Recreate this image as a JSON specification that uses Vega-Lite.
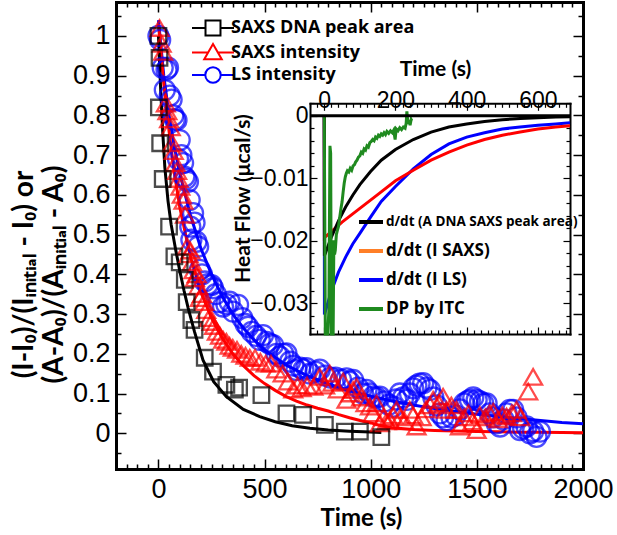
{
  "$schema": "https://vega.github.io/schema/vega-lite/v6.json",
  "width": 467,
  "height": 467,
  "autosize": {"type": "none"},
  "padding": {"left": 116, "top": 2, "right": 34, "bottom": 66},
  "background": "white",
  "config": {
    "view": {"stroke": null},
    "axis": {"grid": false, "domainColor": "black", "tickColor": "black", "labelColor": "black", "titleColor": "black", "labelOverlap": false, "labelFlush": false, "domainCap": "square"}
  },
  "datasets": {
    "mainpts": [
      {"t":0,"v":1.0,"s":"LS intensity"},{"t":8,"v":0.99,"s":"LS intensity"},{"t":20,"v":0.92,"s":"LS intensity"},{"t":30,"v":0.864,"s":"LS intensity"},{"t":38,"v":0.915,"s":"LS intensity"},{"t":45,"v":0.92,"s":"LS intensity"},{"t":53,"v":0.85,"s":"LS intensity"},{"t":62,"v":0.84,"s":"LS intensity"},{"t":70,"v":0.8,"s":"LS intensity"},{"t":77,"v":0.79,"s":"LS intensity"},{"t":85,"v":0.788,"s":"LS intensity"},{"t":92,"v":0.69,"s":"LS intensity"},{"t":100,"v":0.738,"s":"LS intensity"},{"t":108,"v":0.7,"s":"LS intensity"},{"t":116,"v":0.68,"s":"LS intensity"},{"t":122,"v":0.646,"s":"LS intensity"},{"t":130,"v":0.64,"s":"LS intensity"},{"t":139,"v":0.633,"s":"LS intensity"},{"t":147,"v":0.587,"s":"LS intensity"},{"t":150,"v":0.52,"s":"LS intensity"},{"t":155,"v":0.487,"s":"LS intensity"},{"t":163,"v":0.554,"s":"LS intensity"},{"t":170,"v":0.53,"s":"LS intensity"},{"t":179,"v":0.482,"s":"LS intensity"},{"t":187,"v":0.47,"s":"LS intensity"},{"t":195,"v":0.411,"s":"LS intensity"},{"t":205,"v":0.4,"s":"LS intensity"},{"t":218,"v":0.382,"s":"LS intensity"},{"t":232,"v":0.375,"s":"LS intensity"},{"t":250,"v":0.373,"s":"LS intensity"},{"t":257,"v":0.365,"s":"LS intensity"},{"t":270,"v":0.35,"s":"LS intensity"},{"t":285,"v":0.33,"s":"LS intensity"},{"t":304,"v":0.319,"s":"LS intensity"},{"t":320,"v":0.325,"s":"LS intensity"},{"t":335,"v":0.331,"s":"LS intensity"},{"t":352,"v":0.306,"s":"LS intensity"},{"t":375,"v":0.323,"s":"LS intensity"},{"t":395,"v":0.29,"s":"LS intensity"},{"t":410,"v":0.275,"s":"LS intensity"},{"t":422,"v":0.268,"s":"LS intensity"},{"t":440,"v":0.255,"s":"LS intensity"},{"t":460,"v":0.245,"s":"LS intensity"},{"t":477,"v":0.235,"s":"LS intensity"},{"t":493,"v":0.247,"s":"LS intensity"},{"t":510,"v":0.23,"s":"LS intensity"},{"t":525,"v":0.225,"s":"LS intensity"},{"t":540,"v":0.222,"s":"LS intensity"},{"t":556,"v":0.2,"s":"LS intensity"},{"t":572,"v":0.193,"s":"LS intensity"},{"t":588,"v":0.2,"s":"LS intensity"},{"t":603,"v":0.201,"s":"LS intensity"},{"t":620,"v":0.18,"s":"LS intensity"},{"t":635,"v":0.17,"s":"LS intensity"},{"t":650,"v":0.159,"s":"LS intensity"},{"t":668,"v":0.165,"s":"LS intensity"},{"t":683,"v":0.16,"s":"LS intensity"},{"t":697,"v":0.164,"s":"LS intensity"},{"t":715,"v":0.15,"s":"LS intensity"},{"t":740,"v":0.155,"s":"LS intensity"},{"t":760,"v":0.16,"s":"LS intensity"},{"t":785,"v":0.145,"s":"LS intensity"},{"t":810,"v":0.14,"s":"LS intensity"},{"t":835,"v":0.14,"s":"LS intensity"},{"t":860,"v":0.135,"s":"LS intensity"},{"t":886,"v":0.138,"s":"LS intensity"},{"t":900,"v":0.13,"s":"LS intensity"},{"t":917,"v":0.134,"s":"LS intensity"},{"t":940,"v":0.115,"s":"LS intensity"},{"t":964,"v":0.1,"s":"LS intensity"},{"t":980,"v":0.109,"s":"LS intensity"},{"t":995,"v":0.1,"s":"LS intensity"},{"t":1011,"v":0.092,"s":"LS intensity"},{"t":1027,"v":0.09,"s":"LS intensity"},{"t":1043,"v":0.092,"s":"LS intensity"},{"t":1065,"v":0.08,"s":"LS intensity"},{"t":1085,"v":0.072,"s":"LS intensity"},{"t":1106,"v":0.067,"s":"LS intensity"},{"t":1120,"v":0.085,"s":"LS intensity"},{"t":1137,"v":0.1,"s":"LS intensity"},{"t":1153,"v":0.09,"s":"LS intensity"},{"t":1169,"v":0.084,"s":"LS intensity"},{"t":1185,"v":0.1,"s":"LS intensity"},{"t":1200,"v":0.113,"s":"LS intensity"},{"t":1215,"v":0.12,"s":"LS intensity"},{"t":1230,"v":0.125,"s":"LS intensity"},{"t":1247,"v":0.126,"s":"LS intensity"},{"t":1263,"v":0.115,"s":"LS intensity"},{"t":1279,"v":0.109,"s":"LS intensity"},{"t":1295,"v":0.09,"s":"LS intensity"},{"t":1310,"v":0.07,"s":"LS intensity"},{"t":1326,"v":0.05,"s":"LS intensity"},{"t":1341,"v":0.04,"s":"LS intensity"},{"t":1357,"v":0.033,"s":"LS intensity"},{"t":1380,"v":0.04,"s":"LS intensity"},{"t":1400,"v":0.045,"s":"LS intensity"},{"t":1420,"v":0.06,"s":"LS intensity"},{"t":1440,"v":0.075,"s":"LS intensity"},{"t":1455,"v":0.08,"s":"LS intensity"},{"t":1467,"v":0.084,"s":"LS intensity"},{"t":1483,"v":0.09,"s":"LS intensity"},{"t":1499,"v":0.084,"s":"LS intensity"},{"t":1515,"v":0.08,"s":"LS intensity"},{"t":1530,"v":0.075,"s":"LS intensity"},{"t":1546,"v":0.075,"s":"LS intensity"},{"t":1561,"v":0.05,"s":"LS intensity"},{"t":1577,"v":0.04,"s":"LS intensity"},{"t":1593,"v":0.025,"s":"LS intensity"},{"t":1609,"v":0.017,"s":"LS intensity"},{"t":1625,"v":0.035,"s":"LS intensity"},{"t":1640,"v":0.05,"s":"LS intensity"},{"t":1656,"v":0.059,"s":"LS intensity"},{"t":1671,"v":0.059,"s":"LS intensity"},{"t":1687,"v":0.04,"s":"LS intensity"},{"t":1703,"v":0.008,"s":"LS intensity"},{"t":1718,"v":0.012,"s":"LS intensity"},{"t":1734,"v":0.017,"s":"LS intensity"},{"t":1750,"v":0.0,"s":"LS intensity"},{"t":1765,"v":0.005,"s":"LS intensity"},{"t":1781,"v":-0.009,"s":"LS intensity"},{"t":1797,"v":0.004,"s":"LS intensity"},
      {"t":5,"v":1.02,"s":"SAXS intensity"},{"t":15,"v":0.98,"s":"SAXS intensity"},{"t":22,"v":0.96,"s":"SAXS intensity"},{"t":35,"v":0.83,"s":"SAXS intensity"},{"t":42,"v":0.81,"s":"SAXS intensity"},{"t":50,"v":0.79,"s":"SAXS intensity"},{"t":58,"v":0.77,"s":"SAXS intensity"},{"t":65,"v":0.73,"s":"SAXS intensity"},{"t":72,"v":0.71,"s":"SAXS intensity"},{"t":80,"v":0.68,"s":"SAXS intensity"},{"t":88,"v":0.66,"s":"SAXS intensity"},{"t":95,"v":0.64,"s":"SAXS intensity"},{"t":103,"v":0.62,"s":"SAXS intensity"},{"t":110,"v":0.6,"s":"SAXS intensity"},{"t":118,"v":0.585,"s":"SAXS intensity"},{"t":125,"v":0.55,"s":"SAXS intensity"},{"t":135,"v":0.47,"s":"SAXS intensity"},{"t":142,"v":0.45,"s":"SAXS intensity"},{"t":150,"v":0.46,"s":"SAXS intensity"},{"t":158,"v":0.43,"s":"SAXS intensity"},{"t":165,"v":0.41,"s":"SAXS intensity"},{"t":172,"v":0.39,"s":"SAXS intensity"},{"t":180,"v":0.4,"s":"SAXS intensity"},{"t":188,"v":0.37,"s":"SAXS intensity"},{"t":195,"v":0.34,"s":"SAXS intensity"},{"t":205,"v":0.35,"s":"SAXS intensity"},{"t":215,"v":0.33,"s":"SAXS intensity"},{"t":225,"v":0.31,"s":"SAXS intensity"},{"t":238,"v":0.29,"s":"SAXS intensity"},{"t":250,"v":0.28,"s":"SAXS intensity"},{"t":262,"v":0.27,"s":"SAXS intensity"},{"t":275,"v":0.255,"s":"SAXS intensity"},{"t":290,"v":0.245,"s":"SAXS intensity"},{"t":305,"v":0.235,"s":"SAXS intensity"},{"t":320,"v":0.23,"s":"SAXS intensity"},{"t":335,"v":0.22,"s":"SAXS intensity"},{"t":350,"v":0.215,"s":"SAXS intensity"},{"t":370,"v":0.21,"s":"SAXS intensity"},{"t":390,"v":0.2,"s":"SAXS intensity"},{"t":410,"v":0.195,"s":"SAXS intensity"},{"t":430,"v":0.19,"s":"SAXS intensity"},{"t":455,"v":0.19,"s":"SAXS intensity"},{"t":480,"v":0.18,"s":"SAXS intensity"},{"t":505,"v":0.175,"s":"SAXS intensity"},{"t":530,"v":0.175,"s":"SAXS intensity"},{"t":555,"v":0.16,"s":"SAXS intensity"},{"t":585,"v":0.15,"s":"SAXS intensity"},{"t":610,"v":0.13,"s":"SAXS intensity"},{"t":635,"v":0.11,"s":"SAXS intensity"},{"t":655,"v":0.12,"s":"SAXS intensity"},{"t":675,"v":0.113,"s":"SAXS intensity"},{"t":700,"v":0.12,"s":"SAXS intensity"},{"t":730,"v":0.117,"s":"SAXS intensity"},{"t":760,"v":0.142,"s":"SAXS intensity"},{"t":785,"v":0.12,"s":"SAXS intensity"},{"t":807,"v":0.15,"s":"SAXS intensity"},{"t":820,"v":0.127,"s":"SAXS intensity"},{"t":845,"v":0.11,"s":"SAXS intensity"},{"t":870,"v":0.13,"s":"SAXS intensity"},{"t":886,"v":0.084,"s":"SAXS intensity"},{"t":905,"v":0.1,"s":"SAXS intensity"},{"t":917,"v":0.109,"s":"SAXS intensity"},{"t":933,"v":0.117,"s":"SAXS intensity"},{"t":955,"v":0.09,"s":"SAXS intensity"},{"t":975,"v":0.075,"s":"SAXS intensity"},{"t":996,"v":0.067,"s":"SAXS intensity"},{"t":1010,"v":0.05,"s":"SAXS intensity"},{"t":1027,"v":0.075,"s":"SAXS intensity"},{"t":1043,"v":0.025,"s":"SAXS intensity"},{"t":1060,"v":0.04,"s":"SAXS intensity"},{"t":1075,"v":0.03,"s":"SAXS intensity"},{"t":1090,"v":0.033,"s":"SAXS intensity"},{"t":1105,"v":0.045,"s":"SAXS intensity"},{"t":1122,"v":0.059,"s":"SAXS intensity"},{"t":1140,"v":0.04,"s":"SAXS intensity"},{"t":1160,"v":0.03,"s":"SAXS intensity"},{"t":1184,"v":0.059,"s":"SAXS intensity"},{"t":1200,"v":0.045,"s":"SAXS intensity"},{"t":1216,"v":0.017,"s":"SAXS intensity"},{"t":1240,"v":0.04,"s":"SAXS intensity"},{"t":1260,"v":0.06,"s":"SAXS intensity"},{"t":1280,"v":0.07,"s":"SAXS intensity"},{"t":1294,"v":0.084,"s":"SAXS intensity"},{"t":1320,"v":0.075,"s":"SAXS intensity"},{"t":1341,"v":0.092,"s":"SAXS intensity"},{"t":1357,"v":0.059,"s":"SAXS intensity"},{"t":1380,"v":0.07,"s":"SAXS intensity"},{"t":1404,"v":0.059,"s":"SAXS intensity"},{"t":1420,"v":0.017,"s":"SAXS intensity"},{"t":1440,"v":0.04,"s":"SAXS intensity"},{"t":1460,"v":0.05,"s":"SAXS intensity"},{"t":1480,"v":0.03,"s":"SAXS intensity"},{"t":1499,"v":0.008,"s":"SAXS intensity"},{"t":1514,"v":0.046,"s":"SAXS intensity"},{"t":1540,"v":0.04,"s":"SAXS intensity"},{"t":1560,"v":0.05,"s":"SAXS intensity"},{"t":1577,"v":0.054,"s":"SAXS intensity"},{"t":1600,"v":0.035,"s":"SAXS intensity"},{"t":1620,"v":0.045,"s":"SAXS intensity"},{"t":1640,"v":0.042,"s":"SAXS intensity"},{"t":1665,"v":0.05,"s":"SAXS intensity"},{"t":1687,"v":0.059,"s":"SAXS intensity"},{"t":1705,"v":0.04,"s":"SAXS intensity"},{"t":1742,"v":0.105,"s":"SAXS intensity"},{"t":1765,"v":0.142,"s":"SAXS intensity"},
      {"t":0,"v":1.0,"s":"SAXS DNA peak area"},{"t":5,"v":0.945,"s":"SAXS DNA peak area"},{"t":2,"v":0.82,"s":"SAXS DNA peak area"},{"t":8,"v":0.73,"s":"SAXS DNA peak area"},{"t":20,"v":0.64,"s":"SAXS DNA peak area"},{"t":50,"v":0.52,"s":"SAXS DNA peak area"},{"t":75,"v":0.445,"s":"SAXS DNA peak area"},{"t":100,"v":0.43,"s":"SAXS DNA peak area"},{"t":124,"v":0.386,"s":"SAXS DNA peak area"},{"t":133,"v":0.33,"s":"SAXS DNA peak area"},{"t":155,"v":0.285,"s":"SAXS DNA peak area"},{"t":170,"v":0.26,"s":"SAXS DNA peak area"},{"t":218,"v":0.19,"s":"SAXS DNA peak area"},{"t":257,"v":0.155,"s":"SAXS DNA peak area"},{"t":320,"v":0.122,"s":"SAXS DNA peak area"},{"t":360,"v":0.11,"s":"SAXS DNA peak area"},{"t":380,"v":0.115,"s":"SAXS DNA peak area"},{"t":485,"v":0.096,"s":"SAXS DNA peak area"},{"t":603,"v":0.05,"s":"SAXS DNA peak area"},{"t":681,"v":0.046,"s":"SAXS DNA peak area"},{"t":784,"v":0.021,"s":"SAXS DNA peak area"},{"t":878,"v":0.004,"s":"SAXS DNA peak area"},{"t":949,"v":0.004,"s":"SAXS DNA peak area"},{"t":1050,"v":-0.01,"s":"SAXS DNA peak area"}
    ],
    "mainfit": [
      {"t":0,"v":1.04,"s":"LS intensity"},{"t":25,"v":0.9,"s":"LS intensity"},{"t":50,"v":0.8,"s":"LS intensity"},{"t":75,"v":0.72,"s":"LS intensity"},{"t":100,"v":0.655,"s":"LS intensity"},{"t":150,"v":0.55,"s":"LS intensity"},{"t":200,"v":0.465,"s":"LS intensity"},{"t":250,"v":0.4,"s":"LS intensity"},{"t":300,"v":0.345,"s":"LS intensity"},{"t":350,"v":0.3,"s":"LS intensity"},{"t":400,"v":0.265,"s":"LS intensity"},{"t":450,"v":0.235,"s":"LS intensity"},{"t":500,"v":0.21,"s":"LS intensity"},{"t":600,"v":0.172,"s":"LS intensity"},{"t":700,"v":0.145,"s":"LS intensity"},{"t":800,"v":0.124,"s":"LS intensity"},{"t":900,"v":0.107,"s":"LS intensity"},{"t":1000,"v":0.093,"s":"LS intensity"},{"t":1100,"v":0.081,"s":"LS intensity"},{"t":1200,"v":0.071,"s":"LS intensity"},{"t":1300,"v":0.062,"s":"LS intensity"},{"t":1400,"v":0.055,"s":"LS intensity"},{"t":1500,"v":0.048,"s":"LS intensity"},{"t":1600,"v":0.042,"s":"LS intensity"},{"t":1700,"v":0.037,"s":"LS intensity"},{"t":1800,"v":0.032,"s":"LS intensity"},{"t":1900,"v":0.027,"s":"LS intensity"},{"t":2000,"v":0.024,"s":"LS intensity"},
      {"t":0,"v":1.03,"s":"SAXS intensity"},{"t":25,"v":0.88,"s":"SAXS intensity"},{"t":50,"v":0.76,"s":"SAXS intensity"},{"t":75,"v":0.655,"s":"SAXS intensity"},{"t":100,"v":0.57,"s":"SAXS intensity"},{"t":150,"v":0.445,"s":"SAXS intensity"},{"t":200,"v":0.355,"s":"SAXS intensity"},{"t":250,"v":0.29,"s":"SAXS intensity"},{"t":300,"v":0.24,"s":"SAXS intensity"},{"t":350,"v":0.2,"s":"SAXS intensity"},{"t":400,"v":0.17,"s":"SAXS intensity"},{"t":450,"v":0.145,"s":"SAXS intensity"},{"t":500,"v":0.125,"s":"SAXS intensity"},{"t":550,"v":0.108,"s":"SAXS intensity"},{"t":600,"v":0.093,"s":"SAXS intensity"},{"t":650,"v":0.081,"s":"SAXS intensity"},{"t":700,"v":0.071,"s":"SAXS intensity"},{"t":750,"v":0.063,"s":"SAXS intensity"},{"t":800,"v":0.056,"s":"SAXS intensity"},{"t":850,"v":0.047,"s":"SAXS intensity"},{"t":900,"v":0.039,"s":"SAXS intensity"},{"t":950,"v":0.032,"s":"SAXS intensity"},{"t":1000,"v":0.026,"s":"SAXS intensity"},{"t":1050,"v":0.019,"s":"SAXS intensity"},{"t":1100,"v":0.014,"s":"SAXS intensity"},{"t":1200,"v":0.0095,"s":"SAXS intensity"},{"t":1300,"v":0.0072,"s":"SAXS intensity"},{"t":1400,"v":0.0056,"s":"SAXS intensity"},{"t":1500,"v":0.0044,"s":"SAXS intensity"},{"t":1600,"v":0.0035,"s":"SAXS intensity"},{"t":1700,"v":0.0027,"s":"SAXS intensity"},{"t":1800,"v":0.0022,"s":"SAXS intensity"},{"t":1900,"v":0.0018,"s":"SAXS intensity"},{"t":2000,"v":0.0015,"s":"SAXS intensity"},
      {"t":0,"v":1.0,"s":"SAXS DNA peak area"},{"t":10,"v":0.87,"s":"SAXS DNA peak area"},{"t":20,"v":0.76,"s":"SAXS DNA peak area"},{"t":30,"v":0.67,"s":"SAXS DNA peak area"},{"t":45,"v":0.585,"s":"SAXS DNA peak area"},{"t":60,"v":0.525,"s":"SAXS DNA peak area"},{"t":80,"v":0.465,"s":"SAXS DNA peak area"},{"t":100,"v":0.41,"s":"SAXS DNA peak area"},{"t":120,"v":0.36,"s":"SAXS DNA peak area"},{"t":140,"v":0.315,"s":"SAXS DNA peak area"},{"t":170,"v":0.255,"s":"SAXS DNA peak area"},{"t":210,"v":0.184,"s":"SAXS DNA peak area"},{"t":260,"v":0.13,"s":"SAXS DNA peak area"},{"t":320,"v":0.092,"s":"SAXS DNA peak area"},{"t":400,"v":0.06,"s":"SAXS DNA peak area"},{"t":477,"v":0.042,"s":"SAXS DNA peak area"},{"t":550,"v":0.029,"s":"SAXS DNA peak area"},{"t":630,"v":0.019,"s":"SAXS DNA peak area"},{"t":713,"v":0.0126,"s":"SAXS DNA peak area"},{"t":800,"v":0.008,"s":"SAXS DNA peak area"},{"t":900,"v":0.005,"s":"SAXS DNA peak area"},{"t":1000,"v":0.003,"s":"SAXS DNA peak area"},{"t":1050,"v":0.002,"s":"SAXS DNA peak area"}
    ],
    "inset": [
      {"t":0,"v":0,"s":"LS"},{"t":0.5,"v":-0.0318,"s":"LS"},{"t":20,"v":-0.028,"s":"LS"},{"t":40,"v":-0.025,"s":"LS"},{"t":60,"v":-0.0226,"s":"LS"},{"t":80,"v":-0.0205,"s":"LS"},{"t":100,"v":-0.0188,"s":"LS"},{"t":130,"v":-0.0162,"s":"LS"},{"t":160,"v":-0.0137,"s":"LS"},{"t":200,"v":-0.0113,"s":"LS"},{"t":250,"v":-0.0085,"s":"LS"},{"t":300,"v":-0.0062,"s":"LS"},{"t":350,"v":-0.0045,"s":"LS"},{"t":400,"v":-0.0034,"s":"LS"},{"t":450,"v":-0.0027,"s":"LS"},{"t":500,"v":-0.0021,"s":"LS"},{"t":550,"v":-0.0018,"s":"LS"},{"t":600,"v":-0.0015,"s":"LS"},{"t":650,"v":-0.0013,"s":"LS"},{"t":690,"v":-0.0011,"s":"LS"},
      {"t":0,"v":0,"s":"SAXS"},{"t":0.5,"v":-0.0195,"s":"SAXS"},{"t":50,"v":-0.017,"s":"SAXS"},{"t":100,"v":-0.0148,"s":"SAXS"},{"t":150,"v":-0.0126,"s":"SAXS"},{"t":200,"v":-0.0104,"s":"SAXS"},{"t":250,"v":-0.0087,"s":"SAXS"},{"t":300,"v":-0.0071,"s":"SAXS"},{"t":350,"v":-0.0058,"s":"SAXS"},{"t":400,"v":-0.0047,"s":"SAXS"},{"t":450,"v":-0.0038,"s":"SAXS"},{"t":500,"v":-0.0031,"s":"SAXS"},{"t":550,"v":-0.0026,"s":"SAXS"},{"t":600,"v":-0.0021,"s":"SAXS"},{"t":650,"v":-0.0018,"s":"SAXS"},{"t":690,"v":-0.0016,"s":"SAXS"},
      {"t":0,"v":0,"s":"A"},{"t":0.5,"v":-0.0224,"s":"A"},{"t":20,"v":-0.0194,"s":"A"},{"t":40,"v":-0.0168,"s":"A"},{"t":60,"v":-0.0146,"s":"A"},{"t":80,"v":-0.0127,"s":"A"},{"t":100,"v":-0.011,"s":"A"},{"t":130,"v":-0.0089,"s":"A"},{"t":160,"v":-0.0071,"s":"A"},{"t":200,"v":-0.0054,"s":"A"},{"t":250,"v":-0.0038,"s":"A"},{"t":300,"v":-0.0026,"s":"A"},{"t":350,"v":-0.0018,"s":"A"},{"t":400,"v":-0.0013,"s":"A"},{"t":450,"v":-0.0009,"s":"A"},{"t":500,"v":-0.00063,"s":"A"},{"t":550,"v":-0.00044,"s":"A"},{"t":600,"v":-0.0003,"s":"A"},{"t":650,"v":-0.0002,"s":"A"},{"t":690,"v":-0.00016,"s":"A"},
      {"t":0,"v":0,"s":"ITC"},{"t":1.5,"v":-0.016,"s":"ITC"},{"t":3,"v":-0.0349,"s":"ITC"},{"t":10,"v":-0.0349,"s":"ITC"},{"t":13,"v":-0.031,"s":"ITC"},{"t":16,"v":-0.0048,"s":"ITC"},{"t":18,"v":-0.006,"s":"ITC"},{"t":20,"v":-0.0349,"s":"ITC"},{"t":25,"v":-0.0349,"s":"ITC"},{"t":27,"v":-0.0199,"s":"ITC"},{"t":29,"v":-0.0222,"s":"ITC"},{"t":31,"v":-0.0215,"s":"ITC"},{"t":34,"v":-0.019,"s":"ITC"},{"t":37,"v":-0.0183,"s":"ITC"},{"t":40,"v":-0.0177,"s":"ITC"},{"t":44,"v":-0.016,"s":"ITC"},{"t":47,"v":-0.0148,"s":"ITC"},{"t":50,"v":-0.0138,"s":"ITC"},{"t":53,"v":-0.0122,"s":"ITC"},{"t":56,"v":-0.0108,"s":"ITC"},{"t":59,"v":-0.0098,"s":"ITC"},{"t":62,"v":-0.0092,"s":"ITC"},{"t":65,"v":-0.0088,"s":"ITC"},{"t":69,"v":-0.009,"s":"ITC"},{"t":73,"v":-0.0084,"s":"ITC"},{"t":77,"v":-0.0087,"s":"ITC"},{"t":81,"v":-0.008,"s":"ITC"},{"t":85,"v":-0.0078,"s":"ITC"},{"t":88,"v":-0.0074,"s":"ITC"},{"t":92,"v":-0.0071,"s":"ITC"},{"t":96,"v":-0.0066,"s":"ITC"},{"t":100,"v":-0.0064,"s":"ITC"},{"t":104,"v":-0.0058,"s":"ITC"},{"t":108,"v":-0.006,"s":"ITC"},{"t":112,"v":-0.0053,"s":"ITC"},{"t":116,"v":-0.0055,"s":"ITC"},{"t":120,"v":-0.0048,"s":"ITC"},{"t":124,"v":-0.005,"s":"ITC"},{"t":128,"v":-0.0043,"s":"ITC"},{"t":132,"v":-0.0041,"s":"ITC"},{"t":136,"v":-0.0038,"s":"ITC"},{"t":140,"v":-0.004,"s":"ITC"},{"t":144,"v":-0.0034,"s":"ITC"},{"t":148,"v":-0.0036,"s":"ITC"},{"t":152,"v":-0.0031,"s":"ITC"},{"t":156,"v":-0.0033,"s":"ITC"},{"t":160,"v":-0.0029,"s":"ITC"},{"t":164,"v":-0.0031,"s":"ITC"},{"t":168,"v":-0.0027,"s":"ITC"},{"t":172,"v":-0.003,"s":"ITC"},{"t":176,"v":-0.0025,"s":"ITC"},{"t":181,"v":-0.0028,"s":"ITC"},{"t":186,"v":-0.0024,"s":"ITC"},{"t":191,"v":-0.0027,"s":"ITC"},{"t":195,"v":-0.0023,"s":"ITC"},{"t":199,"v":-0.0038,"s":"ITC"},{"t":202,"v":-0.0021,"s":"ITC"},{"t":207,"v":-0.0024,"s":"ITC"},{"t":212,"v":-0.0019,"s":"ITC"},{"t":217,"v":-0.0022,"s":"ITC"},{"t":222,"v":-0.0018,"s":"ITC"},{"t":227,"v":-0.002,"s":"ITC"},{"t":230,"v":-0.0012,"s":"ITC"},{"t":232,"v":0.0007,"s":"ITC"},{"t":235,"v":-0.0013,"s":"ITC"},{"t":238,"v":-0.0007,"s":"ITC"},{"t":241,"v":-0.0015,"s":"ITC"},{"t":244,"v":-0.0006,"s":"ITC"},{"t":246,"v":-0.0008,"s":"ITC"}
    ]
  },
  "layer": [
    {
      "data": {"name": "mainfit"},
      "mark": {"type": "line", "strokeWidth": 3},
      "encoding": {
        "x": {"field": "t", "type": "quantitative", "scale": {"domain": [-200, 2000]}, "axis": null},
        "y": {"field": "v", "type": "quantitative", "scale": {"domain": [-0.09, 1.0855]}, "axis": null},
        "color": {"field": "s", "type": "nominal", "scale": {"domain": ["SAXS DNA peak area", "SAXS intensity", "LS intensity"], "range": ["#000000", "#ff0000", "#0000ff"]}, "legend": null}
      }
    },
    {
      "data": {"name": "mainpts"},
      "mark": {"type": "point", "filled": false, "strokeWidth": 2.3},
      "encoding": {
        "x": {
          "field": "t", "type": "quantitative", "scale": {"domain": [-200, 2000]},
          "axis": {
            "orient": "bottom", "domainWidth": 3, "tickWidth": 1.5,
            "values": [-200,-150,-100,-50,0,50,100,150,200,250,300,350,400,450,500,550,600,650,700,750,800,850,900,950,1000,1050,1100,1150,1200,1250,1300,1350,1400,1450,1500,1550,1600,1650,1700,1750,1800,1850,1900,1950,2000],
            "tickSize": {"condition": {"test": "datum.value % 500 === 0", "value": -10}, "value": -5},
            "labelExpr": "datum.value % 500 === 0 ? format(datum.value, 'd') : ''",
            "labelFont": "Liberation Sans", "labelFontSize": 27, "labelPadding": 17,
            "title": "Time (s)", "titleFont": "Lato", "titleFontWeight": "bold", "titleFontSize": 24,
            "titleX": 245, "titleY": 49, "titleBaseline": "middle", "titleAlign": "center"
          }
        },
        "y": {
          "field": "v", "type": "quantitative", "scale": {"domain": [-0.09, 1.0855]},
          "axis": {
            "orient": "left", "domainWidth": 3, "tickWidth": 1.5,
            "values": [-0.05,0,0.05,0.1,0.15,0.2,0.25,0.3,0.35,0.4,0.45,0.5,0.55,0.6,0.65,0.7,0.75,0.8,0.85,0.9,0.95,1,1.05],
            "tickSize": {"condition": {"test": "abs(datum.value*10 - round(datum.value*10)) < 0.001", "value": -10}, "value": -5},
            "labelExpr": "abs(datum.value*10 - round(datum.value*10)) < 0.001 ? format(datum.value, '~g') : ''",
            "labelFont": "Liberation Sans", "labelFontSize": 27, "labelPadding": 16,
            "title": ["(I-I₀)/(Iᵢₙᵢₜᵢₐₗ - I₀) or", "(A-A₀)/(Aᵢₙᵢₜᵢₐₗ - A₀)"],
            "titleFont": "Lato", "titleFontWeight": "bold", "titleFontSize": 28, "titleLineHeight": 30,
            "titleX": -92, "titleY": 272, "titleAngle": 270, "titleBaseline": "middle", "titleAlign": "center"
          }
        },
        "color": {"field": "s", "type": "nominal", "scale": {"domain": ["SAXS DNA peak area", "SAXS intensity", "LS intensity"], "range": ["#000000", "#ff0000", "#0000ff"]}, "legend": null},
        "shape": {"field": "s", "type": "nominal", "scale": {"domain": ["SAXS DNA peak area", "SAXS intensity", "LS intensity"], "range": ["square", "triangle-up", "circle"]}, "legend": null},
        "size": {"field": "s", "type": "nominal", "scale": {"domain": ["SAXS DNA peak area", "SAXS intensity", "LS intensity"], "range": [240, 400, 320]}, "legend": null}
      }
    },
    {
      "data": {"name": "mainpts"},
      "mark": {"type": "point", "filled": false, "opacity": 0, "strokeWidth": 2},
      "encoding": {
        "x": {
          "field": "t", "type": "quantitative", "scale": {"domain": [-200, 2000]},
          "axis": {
            "orient": "top", "domainWidth": 3, "tickWidth": 1.5, "labels": false, "title": null,
            "values": [-200,-150,-100,-50,0,50,100,150,200,250,300,350,400,450,500,550,600,650,700,750,800,850,900,950,1000,1050,1100,1150,1200,1250,1300,1350,1400,1450,1500,1550,1600,1650,1700,1750,1800,1850,1900,1950,2000],
            "tickSize": {"condition": {"test": "datum.value % 500 === 0", "value": -10}, "value": -5}
          }
        },
        "y": {
          "field": "v", "type": "quantitative", "scale": {"domain": [-0.09, 1.0855]},
          "axis": {
            "orient": "right", "domainWidth": 3, "tickWidth": 1.5, "labels": false, "title": null,
            "values": [-0.05,0,0.05,0.1,0.15,0.2,0.25,0.3,0.35,0.4,0.45,0.5,0.55,0.6,0.65,0.7,0.75,0.8,0.85,0.9,0.95,1,1.05],
            "tickSize": {"condition": {"test": "abs(datum.value*10 - round(datum.value*10)) < 0.001", "value": -10}, "value": -5}
          }
        },
        "color": {
          "field": "s", "type": "nominal",
          "scale": {"domain": ["SAXS DNA peak area", "SAXS intensity", "LS intensity"], "range": ["#000000", "#ff0000", "#0000ff"]},
          "legend": {"orient": "none", "legendX": 88, "legendY": 17, "title": null, "padding": 0, "symbolSize": 196, "symbolStrokeWidth": 2, "symbolOpacity": 1, "labelFont": "Open Sans", "labelFontWeight": "bold", "labelFontSize": 18, "labelColor": "black", "labelOffset": 9, "labelLimit": 300, "rowPadding": -0.5}
        },
        "shape": {
          "field": "s", "type": "nominal",
          "scale": {"domain": ["SAXS DNA peak area", "SAXS intensity", "LS intensity"], "range": ["M-3,0H-1.07M1.07,0H3M-1.07,-1.07H1.07V1.07H-1.07Z", "M-3,0H-0.7M0.7,0H3M0,-1.2L1.25,0.95H-1.25Z", "M-3,0H-1.1M1.1,0H3M-1.1,0A1.1,1.1,0,1,0,1.1,0A1.1,1.1,0,1,0,-1.1,0Z"]},
          "legend": {"orient": "none", "legendX": 88, "legendY": 17, "title": null, "padding": 0, "symbolSize": 196, "symbolStrokeWidth": 2, "symbolOpacity": 1, "labelFont": "Open Sans", "labelFontWeight": "bold", "labelFontSize": 18, "labelColor": "black", "labelOffset": 9, "labelLimit": 300, "rowPadding": -0.5}
        }
      }
    },
    {
      "data": {"name": "inset"},
      "mark": {"type": "line"},
      "encoding": {
        "x": {
          "field": "t", "type": "quantitative", "scale": {"domain": [-40, 690], "range": [194, 454]},
          "axis": {
            "orient": "top", "offset": -101.3, "domainWidth": 2, "tickWidth": 1.2,
            "values": [-40,-20,0,20,40,60,80,100,120,140,160,180,200,220,240,260,280,300,320,340,360,380,400,420,440,460,480,500,520,540,560,580,600,620,640,660,680],
            "tickSize": {"condition": {"test": "datum.value % 200 === 0", "value": -7}, "value": -4},
            "labelExpr": "datum.value % 200 === 0 ? format(datum.value, 'd') : ''",
            "labelFont": "Liberation Sans", "labelFontSize": 23, "labelPadding": -2,
            "title": "Time (s)", "titleFont": "Lato", "titleFontWeight": "bold", "titleFontSize": 21,
            "titleX": 319, "titleY": -34, "titleBaseline": "middle", "titleAlign": "center"
          }
        },
        "y": {
          "field": "v", "type": "quantitative", "scale": {"domain": [-0.0349, 0.002], "range": [332, 101.3]},
          "axis": {
            "orient": "left", "offset": -194, "domainWidth": 2, "tickWidth": 1.2,
            "values": [-0.034,-0.032,-0.03,-0.028,-0.026,-0.024,-0.022,-0.02,-0.018,-0.016,-0.014,-0.012,-0.01,-0.008,-0.006,-0.004,-0.002,0,0.002],
            "tickSize": {"condition": {"test": "abs(datum.value*100 - round(datum.value*100)) < 0.001", "value": -7}, "value": -4},
            "labelExpr": "abs(datum.value*100 - round(datum.value*100)) < 0.001 ? (datum.value === 0 ? '0' : format(datum.value, '.2f')) : ''",
            "labelFont": "Liberation Sans", "labelFontSize": 23, "labelPadding": 9,
            "title": "Heat Flow (μcal/s)", "titleFont": "Lato", "titleFontWeight": "bold", "titleFontSize": 21,
            "titleX": -67, "titleY": 196, "titleAngle": 270, "titleBaseline": "middle", "titleAlign": "center"
          }
        },
        "color": {"field": "s", "type": "nominal", "scale": {"domain": ["A", "SAXS", "LS", "ITC"], "range": ["#000000", "#ff0000", "#0000ff", "#1f8a1f"]}, "legend": null},
        "strokeWidth": {"field": "s", "type": "nominal", "scale": {"domain": ["A", "SAXS", "LS", "ITC"], "range": [3, 3, 3, 2]}, "legend": null}
      }
    },
    {
      "data": {"values": [{}]},
      "mark": {"type": "rule", "strokeWidth": 3, "color": "black"},
      "encoding": {
        "x": {"datum": -40, "type": "quantitative", "scale": {"domain": [-40, 690], "range": [194, 454]}, "axis": null},
        "x2": {"datum": 690},
        "y": {"datum": 0, "type": "quantitative", "scale": {"domain": [-0.0349, 0.002], "range": [332, 101.3]}, "axis": null}
      }
    },
    {
      "data": {"name": "inset"},
      "mark": {"type": "line", "opacity": 0},
      "encoding": {
        "x": {
          "field": "t", "type": "quantitative", "scale": {"domain": [-40, 690], "range": [194, 454]},
          "axis": {
            "orient": "bottom", "offset": -135, "domainWidth": 2, "tickWidth": 1.2, "labels": false, "title": null,
            "values": [-40,-20,0,20,40,60,80,100,120,140,160,180,200,220,240,260,280,300,320,340,360,380,400,420,440,460,480,500,520,540,560,580,600,620,640,660,680],
            "tickSize": {"condition": {"test": "datum.value % 200 === 0", "value": -7}, "value": -4}
          }
        },
        "y": {
          "field": "v", "type": "quantitative", "scale": {"domain": [-0.0349, 0.002], "range": [332, 101.3]},
          "axis": {
            "orient": "right", "offset": -13, "domainWidth": 2, "tickWidth": 1.2, "labels": false, "title": null,
            "values": [-0.034,-0.032,-0.03,-0.028,-0.026,-0.024,-0.022,-0.02,-0.018,-0.016,-0.014,-0.012,-0.01,-0.008,-0.006,-0.004,-0.002,0,0.002],
            "tickSize": {"condition": {"test": "abs(datum.value*100 - round(datum.value*100)) < 0.001", "value": -7}, "value": -4}
          }
        },
        "color": {
          "field": "s", "type": "nominal",
          "scale": {"domain": ["A", "SAXS", "LS", "ITC"], "range": ["#000000", "#ff7f27", "#0000ff", "#1f8a1f"]},
          "legend": {
            "orient": "none", "legendX": 241, "legendY": 206, "title": null, "padding": 0,
            "symbolType": "stroke", "symbolSize": 576, "symbolStrokeWidth": 4, "symbolOpacity": 1,
            "labelFont": "Open Sans", "labelFontWeight": "bold", "labelFontSize": 17, "labelColor": "black", "labelOffset": 1, "rowPadding": 7,
            "labelLimit": 400,
            "labelExpr": "datum.value === 'A' ? 'd/dt (A DNA SAXS peak area)' : datum.value === 'SAXS' ? 'd/dt (I SAXS)' : datum.value === 'LS' ? 'd/dt (I LS)' : 'DP by ITC'",
            "encode": {"labels": {"update": {"fontSize": {"signal": "datum.value === 'A' ? 13.5 : 17"}}}}
          }
        }
      }
    }
  ],
  "resolve": {
    "scale": {"x": "independent", "y": "independent", "color": "independent", "shape": "independent", "size": "independent", "strokeWidth": "independent"},
    "axis": {"x": "independent", "y": "independent"},
    "legend": {"color": "independent", "shape": "independent"}
  }
}
